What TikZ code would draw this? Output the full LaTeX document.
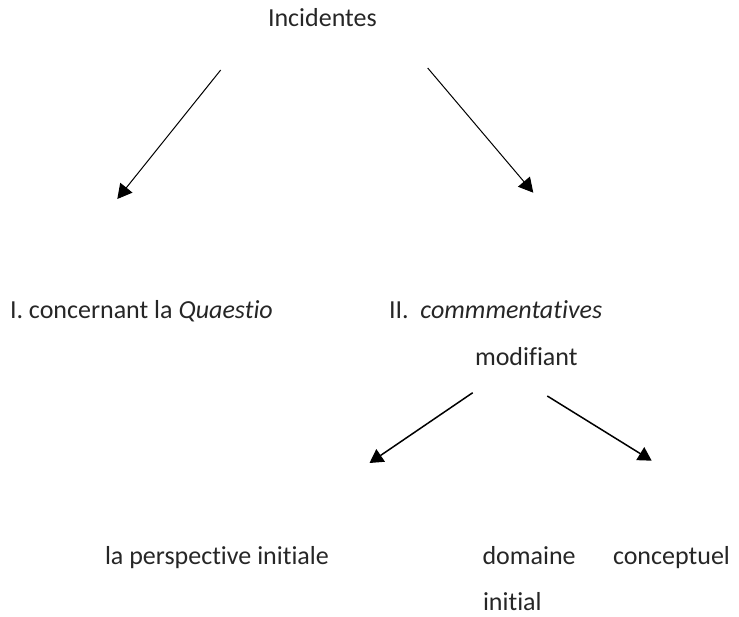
\documentclass[tikz,border=0pt]{standalone}
\usepackage{fontspec}
\setmainfont[Ligatures=NoCommon]{Carlito}
\usetikzlibrary{arrows.meta}
\definecolor{txt}{HTML}{262626}
\tikzset{
  lbl/.style={anchor=base west, inner sep=0pt, outer sep=0pt, text=txt, font=\fontsize{26}{31}\selectfont},
  arr/.style={draw=black, line width=1pt, -{Triangle[length=14.5pt,width=15.5pt]}},
  arrb/.style={draw=black, line width=1.5pt, -{Triangle[length=13.5pt,width=15pt]}}
}
\begin{document}
\begin{tikzpicture}[x=1pt,y=-1pt]
\useasboundingbox (0,0) rectangle (739,616);
\node[lbl] (inc) at (268,26) {Incidentes};
\node[lbl] (q1) at (10,318) {I. concernant la \textit{Quaestio}};
\node[lbl] (q2) at (389,318) {II.\ \ \textit{commmentatives}};
\node[lbl] (mod) at (475,365) {modifiant};
\node[lbl] (persp) at (105,564) {la perspective initiale};
\node[lbl] (dom) at (482.5,564) {domaine};
\node[lbl] (conc) at (613,564) {conceptuel};
\node[lbl] (ini) at (483,610) {initial};
\coordinate (a1s) at (220.7,70);
\coordinate (a1e) at (117.3,199);
\coordinate (a2s) at (427.7,68);
\coordinate (a2e) at (533.3,192.7);
\coordinate (a3s) at (472.7,392.7);
\coordinate (a3e) at (369.5,463);
\coordinate (a4s) at (547.3,396);
\coordinate (a4e) at (651.7,460.7);
\draw[arr] (a1s) -- (a1e);
\draw[arr] (a2s) -- (a2e);
\draw[arrb] (a3s) -- (a3e);
\draw[arrb] (a4s) -- (a4e);
\end{tikzpicture}
\end{document}
